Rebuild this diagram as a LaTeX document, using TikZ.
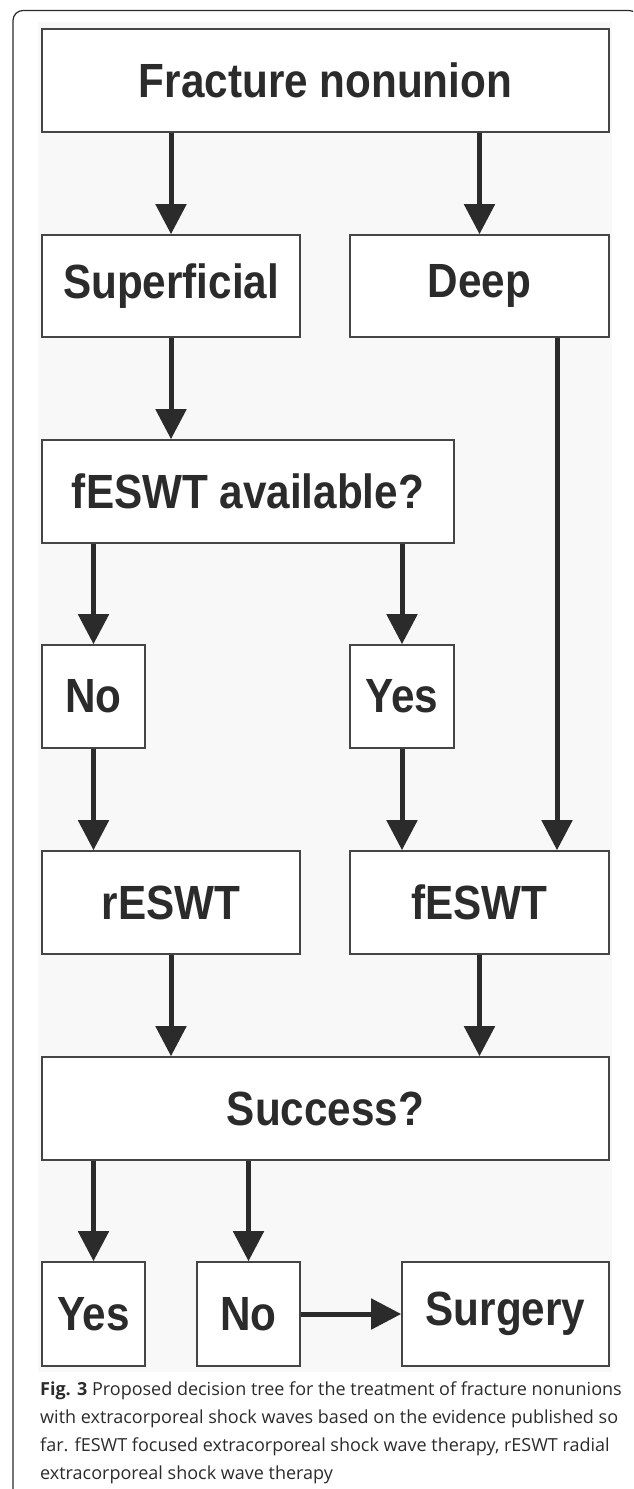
\documentclass[tikz,border=0pt]{standalone}
\usepackage{fontspec}
\setmainfont{Open Sans}
\newfontfamily\boxfont{Liberation Sans}[FakeStretch=0.88]
\usetikzlibrary{arrows.meta}
\definecolor{ink}{HTML}{2B2B2B}
\definecolor{bord}{HTML}{454545}
\definecolor{bgc}{HTML}{F8F8F8}
\begin{document}
\begin{tikzpicture}[x=1pt,y=-1pt,
  box/.style={draw=bord, line width=1.6pt, fill=white, inner sep=0pt, text=ink,
    font=\boxfont\bfseries\fontsize{48}{50}\selectfont},
  arr/.style={draw=ink, line width=5pt, -{Triangle[width=30pt,length=30pt]}},
  captext/.style={anchor=base west, inner sep=0pt, text=ink, font=\fontsize{18}{28}\selectfont}]
\useasboundingbox (0,0) rectangle (633,1489);
\clip (0,0) rectangle (633,1489);
\fill[bgc] (38,22) rectangle (612,1372);
\draw[line width=1.2pt, draw=ink, rounded corners=10pt] (13,10.5) rectangle (639,1560);

\node[box, minimum width=567pt, minimum height=103pt] (frac) at (325.5,80.5) {Fracture nonunion};
\node[box, minimum width=258pt, minimum height=102pt] (sup) at (171,286) {Superficial};
\node[box, minimum width=259pt, minimum height=102pt] (deep) at (479.5,286) {Deep};
\node[box, minimum width=412pt, minimum height=103pt] (avail) at (248,491.5) {fESWT available?};
\node[box, minimum width=103pt, minimum height=103pt] (no1) at (93.5,696.5) {No};
\node[box, minimum width=104pt, minimum height=103pt] (yes1) at (402,696.5) {Yes};
\node[box, minimum width=258pt, minimum height=103pt] (resw) at (171,902.5) {rESWT};
\node[box, minimum width=259pt, minimum height=103pt] (fesw) at (479.5,902.5) {fESWT};
\node[box, minimum width=567pt, minimum height=103pt] (succ) at (325.5,1108.5) {Success?};
\node[box, minimum width=103pt, minimum height=104pt] (yes2) at (93.5,1314) {Yes};
\node[box, minimum width=103pt, minimum height=104pt] (no2) at (248.5,1314) {No};
\node[box, minimum width=207pt, minimum height=104pt] (surg) at (505.5,1314) {Surgery};
\coordinate (dx) at (557,0);

\draw[arr] (frac.south -| sup) -- (sup.north);
\draw[arr] (frac.south -| deep) -- (deep.north);
\draw[arr] (sup.south) -- (sup.south |- avail.north);
\draw[arr] (avail.south -| no1) -- (no1.north);
\draw[arr] (avail.south -| yes1) -- (yes1.north);
\draw[arr] (no1.south) -- (no1.south |- resw.north);
\draw[arr] (yes1.south) -- (yes1.south |- fesw.north);
\draw[arr] (deep.south -| dx) -- (fesw.north -| dx);
\draw[arr] (resw.south) -- (resw.south |- succ.north);
\draw[arr] (fesw.south) -- (fesw.south |- succ.north);
\draw[arr] (succ.south -| yes2) -- (yes2.north);
\draw[arr] (succ.south -| no2) -- (no2.north);
\draw[arr] (no2.east) -- (surg.west);

\node[captext] (cap1) at (40,1395) {\textbf{Fig. 3} Proposed decision tree for the treatment of fracture nonunions};
\node[captext] (cap2) at (40,1423) {with extracorporeal shock waves based on the evidence published so};
\node[captext] (cap3) at (40,1451) {far. fESWT focused extracorporeal shock wave therapy, rESWT radial};
\node[captext] (cap4) at (40,1479) {extracorporeal shock wave therapy};
\end{tikzpicture}
\end{document}
